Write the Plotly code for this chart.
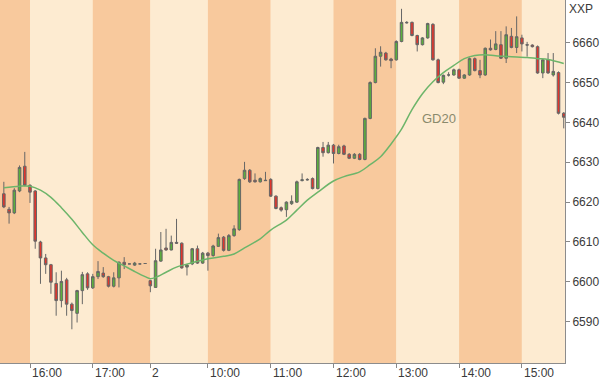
import plotly.graph_objects as go

# ---------------- data ----------------
candle_idx = list(range(108))

opens = [6622.1, 6618.2, 6617.3, 6622.8, 6629.0, 6624.2, 6622.8, 6610.0, 6606.0, 6604.3,
         6599.6, 6595.3, 6600.5, 6594.4, 6592.1, 6597.8, 6602.0, 6598.5, 6601.3, 6602.2,
         6601.3, 6598.9, 6601.0, 6604.9, 6604.5, 6604.2, 6604.5, 6604.6, 6600.3, 6598.6,
         6605.2, 6608.5, 6608.0, 6609.9, 6609.7, 6603.7, 6604.5, 6608.3, 6604.7, 6607.2,
         6606.6, 6608.9, 6611.2, 6607.9, 6611.6, 6613.1, 6625.9, 6628.0, 6625.5, 6625.1,
         6625.5, 6625.7, 6621.5, 6618.6, 6618.1, 6619.6, 6620.0, 6625.4, 6625.7, 6625.9,
         6623.4, 6633.7, 6632.4, 6634.3, 6632.2, 6634.1, 6632.0, 6631.0, 6632.0, 6630.7,
         6641.0, 6650.0, 6656.6, 6657.4, 6655.9, 6655.7, 6660.3, 6665.1, 6665.1, 6661.8,
         6659.5, 6661.2, 6664.6, 6655.7, 6650.1, 6651.9, 6651.9, 6653.2, 6651.1, 6651.9,
         6656.0, 6653.0, 6651.9, 6658.6, 6658.3, 6659.5, 6656.1, 6661.6, 6658.8, 6661.2,
         6659.5, 6659.4, 6659.0, 6652.4, 6655.7, 6651.9, 6652.5, 6642.3]

highs = [6625.1, 6618.8, 6623.5, 6629.2, 6632.6, 6624.5, 6623.0, 6610.3, 6607.0, 6604.5,
         6602.4, 6602.8, 6601.0, 6594.8, 6598.0, 6602.5, 6602.4, 6602.0, 6605.2, 6603.7,
         6601.5, 6602.4, 6605.2, 6606.2, 6604.5, 6605.0, 6604.5, 6604.6, 6600.5, 6608.3,
         6612.5, 6613.3, 6611.6, 6615.8, 6609.9, 6604.5, 6608.5, 6609.1, 6607.5, 6607.5,
         6609.3, 6612.1, 6611.5, 6612.0, 6614.2, 6625.9, 6630.1, 6628.3, 6627.2, 6626.2,
         6627.6, 6626.0, 6621.7, 6618.9, 6620.2, 6621.7, 6625.4, 6627.2, 6626.0, 6626.2,
         6633.9, 6635.1, 6635.1, 6634.6, 6634.4, 6634.4, 6632.3, 6632.3, 6632.3, 6641.2,
         6650.3, 6658.6, 6659.1, 6657.7, 6656.2, 6660.6, 6668.5, 6665.4, 6665.3, 6662.0,
         6661.4, 6665.0, 6664.9, 6656.0, 6652.0, 6652.6, 6653.5, 6653.5, 6652.1, 6656.3,
         6656.3, 6655.7, 6658.8, 6660.8, 6662.9, 6662.9, 6664.1, 6663.7, 6666.6, 6662.0,
         6660.2, 6659.6, 6659.3, 6655.9, 6657.4, 6657.4, 6652.8, 6642.6]

lows = [6618.5, 6614.6, 6617.0, 6622.5, 6624.0, 6619.8, 6608.3, 6599.5, 6602.0, 6597.0,
        6591.5, 6593.6, 6591.5, 6588.1, 6589.8, 6594.4, 6598.0, 6598.2, 6600.7, 6601.0,
        6598.6, 6598.6, 6598.6, 6603.2, 6604.5, 6604.0, 6604.5, 6604.6, 6597.4, 6598.5,
        6605.0, 6607.8, 6607.9, 6609.5, 6603.3, 6601.6, 6604.2, 6604.5, 6604.5, 6602.8,
        6606.3, 6608.8, 6607.6, 6607.7, 6611.3, 6612.8, 6625.6, 6624.8, 6624.9, 6624.9,
        6625.3, 6621.3, 6618.2, 6617.6, 6616.3, 6619.3, 6619.8, 6625.2, 6625.4, 6623.2,
        6623.2, 6631.4, 6632.2, 6629.7, 6632.0, 6631.8, 6630.8, 6630.8, 6630.5, 6630.5,
        6640.8, 6649.8, 6654.0, 6655.5, 6653.6, 6655.5, 6660.1, 6664.8, 6661.6, 6657.8,
        6659.3, 6661.0, 6655.5, 6649.8, 6649.6, 6651.5, 6651.7, 6650.9, 6650.9, 6651.7,
        6652.8, 6651.1, 6651.7, 6658.0, 6658.1, 6655.9, 6654.9, 6658.6, 6657.4, 6657.8,
        6656.5, 6658.8, 6652.2, 6651.1, 6652.2, 6651.5, 6642.0, 6638.5]

closes = [6618.8, 6617.3, 6623.0, 6628.7, 6624.2, 6622.5, 6610.2, 6606.0, 6604.3, 6599.9,
          6595.3, 6600.1, 6594.4, 6592.8, 6597.8, 6601.8, 6598.5, 6601.3, 6602.6, 6601.3,
          6598.9, 6601.0, 6604.9, 6604.3, 6604.5, 6604.7, 6604.5, 6604.6, 6599.0, 6605.3,
          6608.0, 6608.0, 6609.9, 6609.7, 6603.5, 6604.2, 6608.3, 6604.7, 6607.2, 6606.6,
          6609.0, 6611.1, 6607.9, 6611.6, 6613.3, 6625.7, 6628.0, 6625.1, 6625.1, 6625.9,
          6625.4, 6621.5, 6618.4, 6618.0, 6620.0, 6620.2, 6625.1, 6625.6, 6625.6, 6623.4,
          6633.7, 6632.4, 6634.3, 6632.2, 6633.9, 6632.0, 6631.0, 6632.0, 6630.7, 6641.0,
          6650.0, 6656.6, 6657.6, 6655.7, 6655.5, 6660.3, 6665.1, 6665.0, 6661.8, 6659.5,
          6661.2, 6664.8, 6655.7, 6650.0, 6651.8, 6651.9, 6653.2, 6651.1, 6651.9, 6656.0,
          6653.0, 6651.9, 6658.6, 6658.2, 6659.7, 6656.1, 6662.0, 6658.8, 6661.5, 6659.7,
          6659.4, 6659.0, 6652.4, 6655.7, 6652.4, 6652.8, 6642.3, 6641.3]

# GD20 moving-average line at selected candles
ma_idx = [0, 3, 5, 7, 9, 11, 13, 15, 17, 19, 21, 23, 25, 27, 28, 29, 31, 33, 36, 39,
          42, 44, 46, 49, 51, 54, 56, 58, 60, 63, 65, 68, 70, 72, 74, 76, 78, 80, 82, 84,
          86, 88, 90, 92, 94, 97, 100, 102, 104, 107]
ma_val = [6623.6, 6624.0, 6624.0, 6623.0, 6621.2, 6618.6, 6615.7, 6612.4, 6609.3, 6607.2,
          6605.4, 6604.0, 6602.6, 6601.3, 6600.8, 6601.1, 6602.4, 6603.7, 6604.8, 6605.8,
          6606.4, 6607.0, 6608.5, 6610.8, 6613.0, 6615.5, 6618.0, 6620.5, 6622.5, 6625.3,
          6626.4, 6627.6, 6629.4, 6631.4, 6634.6, 6638.3, 6643.2, 6647.2, 6650.2, 6652.5,
          6654.3, 6656.0, 6656.8, 6657.0, 6656.7, 6656.5, 6656.3, 6656.0, 6655.8, 6654.8]

tick_idx = [5, 17, 28, 39, 51, 63, 75, 87, 99]
tick_labels = ["16:00", "17:00", "2", "10:00", "11:00", "12:00", "13:00", "14:00", "15:00"]
y_ticks = [6590, 6600, 6610, 6620, 6630, 6640, 6650, 6660]

# ---------------- styling ----------------
DARK_BAND = "#F8C99D"
LIGHT_BAND = "#FDEBD1"
FONT = "Liberation Sans, Arial, sans-serif"
X_LO, X_HI = -0.733, 107.24
Y_LO, Y_HI = 6579.64, 6670.71

fig = go.Figure()

edges = [X_LO] + tick_idx + [X_HI]
for k in range(len(edges) - 1):
    fig.add_shape(type="rect", xref="x", yref="paper",
                  x0=edges[k], x1=edges[k + 1], y0=0, y1=1,
                  fillcolor=DARK_BAND if k % 2 == 0 else LIGHT_BAND,
                  line_width=0, layer="below")

fig.add_trace(go.Scatter(x=ma_idx, y=ma_val, mode="lines",
                         line=dict(color="#6DB56A", width=1.5, shape="spline"),
                         hoverinfo="skip", showlegend=False))

fig.add_trace(go.Candlestick(
    x=candle_idx, open=opens, high=highs, low=lows, close=closes,
    increasing=dict(fillcolor="#5BAF3C", line=dict(color="#666666", width=1)),
    decreasing=dict(fillcolor="#E0352C", line=dict(color="#666666", width=1)),
    whiskerwidth=0, showlegend=False, hoverinfo="skip"))

for xv, lab in zip(tick_idx, tick_labels):
    fig.add_annotation(x=xv, y=0, xref="x", yref="paper", text=lab,
                       showarrow=False, xanchor="left", yanchor="top",
                       xshift=0, yshift=-1,
                       font=dict(family=FONT, size=12, color="#3a3a3a"))

fig.add_annotation(x=83.2, y=6641.1, xref="x", yref="y", text="GD20",
                   showarrow=False, xanchor="center", yanchor="middle",
                   font=dict(family=FONT, size=13, color="#8A8A6C"))

fig.add_annotation(x=1, y=1, xref="paper", yref="paper", text="XXP",
                   showarrow=False, xanchor="left", yanchor="top",
                   xshift=2, yshift=0,
                   font=dict(family=FONT, size=12, color="#3a3a3a"))

fig.update_layout(
    width=600, height=380,
    margin=dict(l=0, r=35, t=0, b=17),
    paper_bgcolor="white", plot_bgcolor=LIGHT_BAND,
    showlegend=False,
    xaxis=dict(range=[X_LO, X_HI], tickvals=tick_idx, showticklabels=False,
               ticks="outside", ticklen=4, tickcolor="#888888",
               showline=True, linecolor="#8C8C8C", linewidth=1,
               showgrid=False, zeroline=False, rangeslider=dict(visible=False),
               fixedrange=True),
    yaxis=dict(range=[Y_LO, Y_HI], side="right", tickvals=y_ticks,
               ticks="outside", ticklen=4, tickcolor="#888888",
               showline=True, linecolor="#8C8C8C", linewidth=1,
               showgrid=False, zeroline=False,
               tickfont=dict(family=FONT, size=12, color="#3a3a3a")),
)

fig.write_html("out.html")
